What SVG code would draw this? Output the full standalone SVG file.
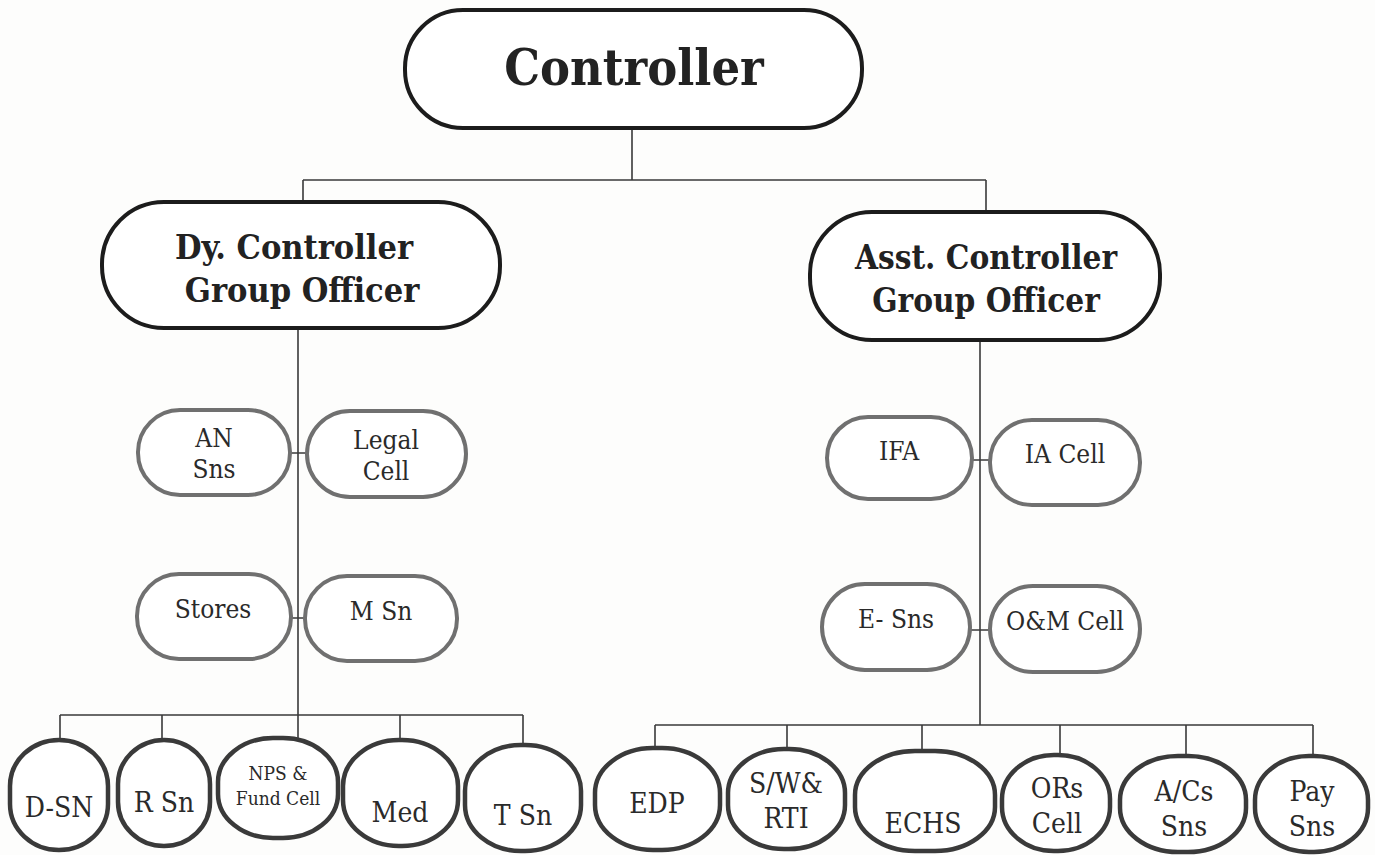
<svg xmlns="http://www.w3.org/2000/svg" width="1375" height="855" viewBox="0 0 1375 855">
<style>
text{font-family:"DejaVu Serif Condensed","DejaVu Serif","Liberation Serif",serif;text-anchor:middle;fill:#2a2a2a}
.top{fill:#fff;stroke:#1c1c1c;stroke-width:4}
.mid{fill:#fff;stroke:#707070;stroke-width:4}
.bot{fill:#fff;stroke:#3a3a3a;stroke-width:4.5}
.b{font-weight:bold;fill:#222}
.m{font-size:26px}
.s{font-size:28px}
.line{stroke:#3a3a3a;stroke-width:1.6;fill:none}
</style>
<rect width="1375" height="855" fill="#fdfdfc"/>
<g id="connectors" class="line">
<path d="M632 128V180M303 180H986M303 180V203M986 180V212"/>
<path d="M298 328V715M60 715H523M60 715V740M162 715V740M298 715V738M400 715V740M523 715V745"/>
<path d="M290 453H307M291 618H305"/>
<path d="M980 340V725M655 725H1313M655 725V748M787 725V748M922 725V750M1060 725V755M1186 725V755M1313 725V755"/>
<path d="M972 460H990M970 630H990"/>
</g>
<g id="controller"><rect class="top" x="405" y="10" width="457" height="118" rx="58"/><text class="b" x="634" y="85" font-size="50">Controller</text></g>
<g id="dy"><rect class="top" x="102" y="202" width="398" height="126" rx="62"/><text class="b" x="294" y="259" font-size="34">Dy. Controller</text><text class="b" x="302" y="302" font-size="34">Group Officer</text></g>
<g id="asst"><rect class="top" x="810" y="212" width="350" height="128" rx="62"/><text class="b" x="986" y="269" font-size="33">Asst. Controller</text><text class="b" x="986" y="312" font-size="33">Group Officer</text></g>
<g id="an-sns"><rect class="mid" x="138" y="410" width="152" height="85" rx="42"/><text class="m" x="214" y="447">AN</text><text class="m" x="214" y="478">Sns</text></g>
<g id="legal-cell"><rect class="mid" x="307" y="411" width="159" height="86" rx="43"/><text class="m" x="386" y="449">Legal</text><text class="m" x="386" y="480">Cell</text></g>
<g id="stores"><rect class="mid" x="137" y="574" width="154" height="85" rx="42"/><text class="m" x="213" y="618">Stores</text></g>
<g id="m-sn"><rect class="mid" x="305" y="576" width="152" height="85" rx="42"/><text class="m" x="381" y="620">M Sn</text></g>
<g id="ifa"><rect class="mid" x="827" y="417" width="145" height="82" rx="41"/><text class="m" x="899" y="460">IFA</text></g>
<g id="ia-cell"><rect class="mid" x="990" y="420" width="150" height="85" rx="42"/><text class="m" x="1065" y="463">IA Cell</text></g>
<g id="e-sns"><rect class="mid" x="822" y="584" width="148" height="86" rx="43"/><text class="m" x="896" y="628">E- Sns</text></g>
<g id="om-cell"><rect class="mid" x="990" y="586" width="150" height="86" rx="43"/><text class="m" x="1065" y="630">O&amp;M Cell</text></g>
<g id="d-sn"><rect class="bot" x="10" y="740" width="98" height="110" rx="49" ry="46"/><text class="s" x="59" y="817">D-SN</text></g>
<g id="r-sn"><rect class="bot" x="118" y="740" width="92" height="106" rx="46" ry="44"/><text class="s" x="164" y="812">R Sn</text></g>
<g id="nps"><rect class="bot" x="218" y="738" width="120" height="100" rx="55" ry="44"/><text x="278" y="780" font-size="19">NPS &amp;</text><text x="278" y="805" font-size="19">Fund Cell</text></g>
<g id="med"><rect class="bot" x="343" y="740" width="115" height="106" rx="56" ry="46"/><text class="s" x="400" y="822">Med</text></g>
<g id="t-sn"><rect class="bot" x="465" y="745" width="116" height="106" rx="56" ry="46"/><text class="s" x="523" y="825">T Sn</text></g>
<g id="edp"><rect class="bot" x="595" y="748" width="125" height="102" rx="58" ry="45"/><text class="s" x="657" y="813">EDP</text></g>
<g id="sw-rti"><rect class="bot" x="728" y="749" width="117" height="100" rx="56" ry="44"/><text class="s" x="786" y="793">S/W&amp;</text><text class="s" x="786" y="828">RTI</text></g>
<g id="echs"><rect class="bot" x="855" y="751" width="140" height="100" rx="60" ry="44"/><text class="s" x="923" y="833">ECHS</text></g>
<g id="ors-cell"><rect class="bot" x="1002" y="755" width="108" height="96" rx="52" ry="44"/><text class="s" x="1057" y="798">ORs</text><text class="s" x="1057" y="833">Cell</text></g>
<g id="acs-sns"><rect class="bot" x="1120" y="756" width="126" height="96" rx="58" ry="44"/><text class="s" x="1184" y="801">A/Cs</text><text class="s" x="1184" y="836">Sns</text></g>
<g id="pay-sns"><rect class="bot" x="1255" y="756" width="113" height="96" rx="54" ry="44"/><text class="s" x="1312" y="801">Pay</text><text class="s" x="1312" y="836">Sns</text></g>
</svg>
